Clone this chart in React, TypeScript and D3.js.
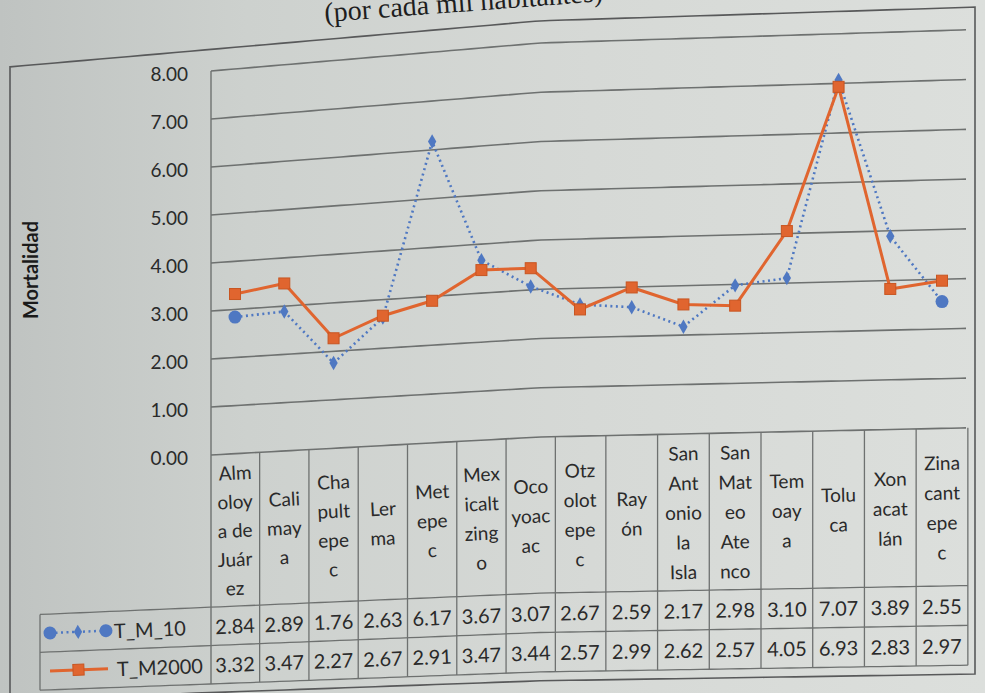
import React from 'react';
import * as d3 from 'd3';

// ---------- data ----------
const categoryLines: string[][] = [
  ['Alm', 'oloy', 'a de', 'Juár', 'ez'],
  ['Cali', 'may', 'a'],
  ['Cha', 'pult', 'epe', 'c'],
  ['Ler', 'ma'],
  ['Met', 'epe', 'c'],
  ['Mex', 'icalt', 'zing', 'o'],
  ['Oco', 'yoac', 'ac'],
  ['Otz', 'olot', 'epe', 'c'],
  ['Ray', 'ón'],
  ['San', 'Ant', 'onio', 'la', 'Isla'],
  ['San', 'Mat', 'eo', 'Ate', 'nco'],
  ['Tem', 'oay', 'a'],
  ['Tolu', 'ca'],
  ['Xon', 'acat', 'lán'],
  ['Zina', 'cant', 'epe', 'c'],
];
const seriesNames = ['T_M_10', 'T_M2000'];
const tM10 = [2.84, 2.89, 1.76, 2.63, 6.17, 3.67, 3.07, 2.67, 2.59, 2.17, 2.98, 3.1, 7.07, 3.89, 2.55];
const tM2000 = [3.32, 3.47, 2.27, 2.67, 2.91, 3.47, 3.44, 2.57, 2.99, 2.62, 2.57, 4.05, 6.93, 2.83, 2.97];
const yTicks = [0, 1, 2, 3, 4, 5, 6, 7, 8];
const yTitle = 'Mortalidad';
const titleText = '(por cada mil habitantes)';

// ---------- layout (photo warp approximated with polylinear scales) ----------
const W = 985;
const H = 693;
const baseY = d3.scaleLinear().domain([211, 540, 960]).range([455, 437, 428]);
const topY = d3.scaleLinear().domain([211, 540, 960]).range([71, 43, 30]);
const xScale = d3.scaleLinear().domain([0, 7, 14]).range([235, 580, 942]);
const yAt = (x: number) => d3.scaleLinear().domain([0, 8]).range([baseY(x), topY(x)]);
const P = (x: number, v: number): [number, number] => [x, yAt(x)(v)];
const ang = (x: number, v: number) => {
  const a = P(x - 5, v);
  const b = P(x + 5, v);
  return (Math.atan2(b[1] - a[1], b[0] - a[0]) * 180) / Math.PI;
};

const PLOT_L = 211;
const PLOT_R = 966;
const LEG_L = 40;
const V_R1 = -3.17;
const V_R2 = -3.97;
const V_B = -4.77;

const FONT = 'Lato, "Open Sans", "Liberation Sans", sans-serif';
const TXT = '#2a2a2a';
const GRID = '#6e7170';
const BLUE = '#4f78c2';
const ORANGE = '#e0652f';

const hLine = (x0: number, x1: number, v: number) => {
  const xs = d3.range(x0, x1, 10).concat([x1]);
  return d3.line()(xs.map((x) => P(x, v))) || '';
};
const vLine = (x: number, v0: number, v1: number) => d3.line()([P(x, v0), P(x, v1)]) || '';

export default function App() {
  const n = categoryLines.length;
  const bounds = d3.range(n + 1).map((i) => xScale(i - 0.5));
  const lineGen = d3
    .line<number>()
    .x((_, i) => xScale(i))
    .y((d, i) => yAt(xScale(i))(d));

  const catSpacing = 0.6;
  const headerMid = V_R1 / 2;
  const row1Mid = (V_R1 + V_R2) / 2;
  const row2Mid = (V_R2 + V_B) / 2;

  // chart border
  const borderTop = d3.range(10, 976, 15).concat([975]).map((x) => P(x, 8.45));
  const borderBottom = d3.range(975, 9, -15).concat([10]).map((x) => P(x, -4.95));
  const borderPath = (d3.line()(borderTop.concat(borderBottom)) || '') + 'Z';

  return (
    <svg width={W} height={H} style={{ display: 'block', position: 'absolute', left: 0, top: 0 }}>
      <defs>
        <linearGradient id="paper" x1="0" x2="1" y1="0" y2="0">
          <stop offset="0" stopColor="#bfc3c1" />
          <stop offset="0.25" stopColor="#cdd1ce" />
          <stop offset="0.6" stopColor="#d6d9d6" />
          <stop offset="1" stopColor="#dcdfdc" />
        </linearGradient>
      </defs>
      <rect x={0} y={0} width={W} height={H} fill="url(#paper)" />

      {/* title fragment (cut by the top edge of the photo) */}
      <text
        x={325}
        y={22}
        transform="rotate(-4.3 325 22)"
        fontFamily='"Liberation Serif", "DejaVu Serif", serif'
        fontSize={28}
        fill="#1e1e1e"
      >
        {titleText}
      </text>

      {/* chart border */}
      <path d={borderPath} fill="none" stroke="#58595a" strokeWidth={1.6} />

      {/* gridlines */}
      {yTicks.map((t) => (
        <path key={'g' + t} d={hLine(PLOT_L, PLOT_R, t)} stroke={GRID} strokeWidth={1.6} fill="none" />
      ))}
      {/* value axis line / table left edge */}
      <path d={vLine(PLOT_L, 8, V_B)} stroke={GRID} strokeWidth={1.4} fill="none" />

      {/* y tick labels */}
      {yTicks.map((t) => (
        <text
          key={'yl' + t}
          x={188}
          y={P(PLOT_L, t)[1] + 2}
          textAnchor="end"
          dominantBaseline="central"
          fontFamily={FONT}
          fontSize={19}
          fill={TXT}
        >
          {t.toFixed(2)}
        </text>
      ))}

      {/* y title */}
      <text
        x={30}
        y={270}
        transform="rotate(-90 30 270)"
        textAnchor="middle"
        dominantBaseline="central"
        fontFamily={FONT}
        fontWeight="bold"
        fontSize={20}
        fill="#1a1a1a"
      >
        {yTitle}
      </text>

      {/* data table grid */}
      <path d={hLine(LEG_L, bounds[n], V_R1)} stroke={GRID} strokeWidth={1.3} fill="none" />
      <path d={hLine(LEG_L, bounds[n], V_R2)} stroke={GRID} strokeWidth={1.3} fill="none" />
      <path d={hLine(LEG_L, bounds[n], V_B)} stroke={GRID} strokeWidth={1.3} fill="none" />
      <path d={vLine(LEG_L, V_R1, V_B)} stroke={GRID} strokeWidth={1.3} fill="none" />
      {bounds.slice(1).map((bx, i) => (
        <path key={'cb' + i} d={vLine(bx, 0, V_B)} stroke={GRID} strokeWidth={1.3} fill="none" />
      ))}

      {/* category labels */}
      {categoryLines.map((lines, i) => {
        const cx = xScale(i);
        return lines.map((s, j) => {
          const v = headerMid + ((lines.length - 1) / 2 - j) * catSpacing;
          const [px, py] = P(cx, v);
          return (
            <text
              key={'c' + i + '-' + j}
              x={px}
              y={py}
              transform={`rotate(${ang(cx, v)} ${px} ${py})`}
              textAnchor="middle"
              dominantBaseline="central"
              fontFamily={FONT}
              fontSize={19}
              fill={TXT}
            >
              {s}
            </text>
          );
        });
      })}

      {/* table values */}
      {[tM10, tM2000].map((arr, r) =>
        arr.map((d, i) => {
          const cx = xScale(i);
          const v = r === 0 ? row1Mid : row2Mid;
          const [px, py] = P(cx, v);
          return (
            <text
              key={'v' + r + '-' + i}
              x={px}
              y={py}
              transform={`rotate(${ang(cx, v)} ${px} ${py})`}
              textAnchor="middle"
              dominantBaseline="central"
              fontFamily={FONT}
              fontSize={20}
              fill={TXT}
            >
              {d.toFixed(2)}
            </text>
          );
        })
      )}

      {/* legend keys in table */}
      {(() => {
        const [, y1] = P(78, row1Mid);
        const [, y2] = P(78, row2Mid);
        const a1 = ang(78, row1Mid);
        const a2 = ang(78, row2Mid);
        return (
          <g>
            <g transform={`rotate(${a1} 78 ${y1})`}>
              <line x1={50} x2={106} y1={y1} y2={y1} stroke={BLUE} strokeWidth={2.5} strokeDasharray="2 3.5" />
              <circle cx={50} cy={y1} r={6.5} fill={BLUE} />
              <path d={d3.symbol(d3.symbolDiamond, 60)() || ''} transform={`translate(78 ${y1})`} fill={BLUE} />
              <circle cx={106} cy={y1} r={6.5} fill={BLUE} />
              <text x={114} y={y1} dominantBaseline="central" fontFamily={FONT} fontSize={20} fill={TXT}>
                {seriesNames[0]}
              </text>
            </g>
            <g transform={`rotate(${a2} 78 ${y2})`}>
              <line x1={50} x2={108} y1={y2} y2={y2} stroke={ORANGE} strokeWidth={3} />
              <rect x={73} y={y2 - 5.5} width={11} height={11} fill={ORANGE} stroke="#c85521" strokeWidth={1} />
              <text x={117} y={y2} dominantBaseline="central" fontFamily={FONT} fontSize={20} fill={TXT}>
                {seriesNames[1]}
              </text>
            </g>
          </g>
        );
      })()}

      {/* series T_M_10 */}
      <path d={lineGen(tM10) || ''} fill="none" stroke={BLUE} strokeWidth={2.6} strokeDasharray="2 3.5" />
      {tM10.map((d, i) => {
        const x = xScale(i);
        const y = yAt(x)(d);
        const isEnd = i === 0 || i === tM10.length - 1;
        return isEnd ? (
          <circle key={'b' + i} cx={x} cy={y} r={6.5} fill={BLUE} />
        ) : (
          <path
            key={'b' + i}
            d={d3.symbol(d3.symbolDiamond, 60)() || ''}
            transform={`translate(${x} ${y})`}
            fill={BLUE}
          />
        );
      })}

      {/* series T_M2000 */}
      <path d={lineGen(tM2000) || ''} fill="none" stroke={ORANGE} strokeWidth={3} />
      {tM2000.map((d, i) => {
        const x = xScale(i);
        const y = yAt(x)(d);
        return (
          <rect
            key={'o' + i}
            x={x - 5.5}
            y={y - 5.5}
            width={11}
            height={11}
            fill={ORANGE}
            stroke="#c85521"
            strokeWidth={1}
          />
        );
      })}
    </svg>
  );
}
